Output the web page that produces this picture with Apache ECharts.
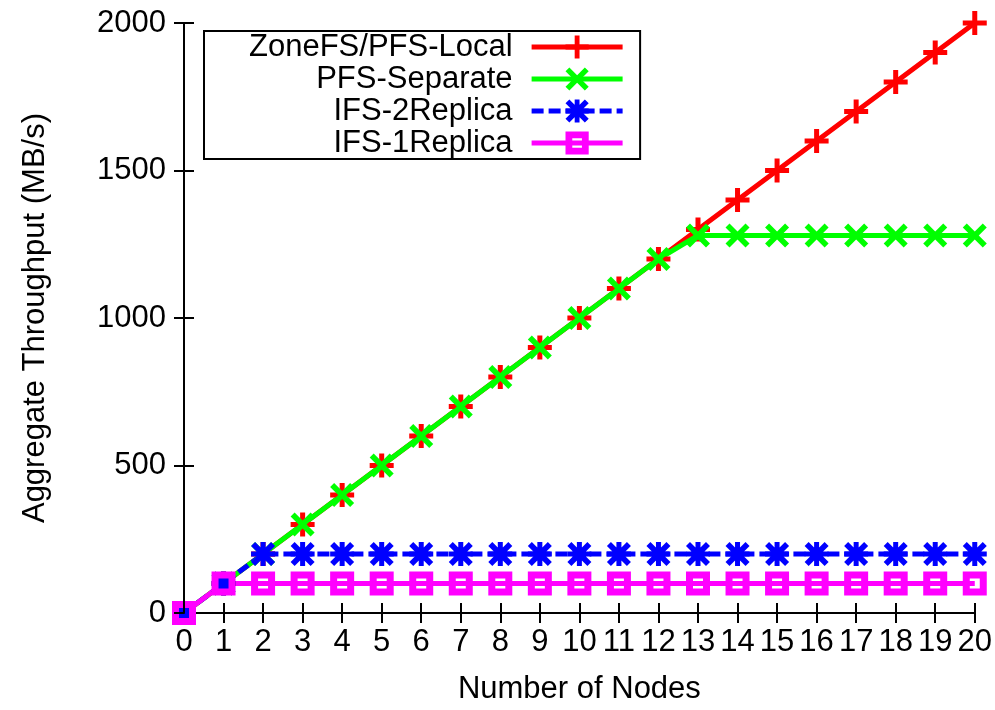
<!DOCTYPE html>
<html>
<head>
<meta charset="utf-8">
<script src="https://cdn.jsdelivr.net/npm/echarts@6/dist/echarts.min.js"></script>
<style>
html,body{margin:0;padding:0;background:#fff;}
#chart{width:995px;height:710px;}
</style>
</head>
<body>
<div id="chart"></div>
<script>
const nodes = [0,1,2,3,4,5,6,7,8,9,10,11,12,13,14,15,16,17,18,19,20];
const zonefsLocal = [0,100,200,300,400,500,600,700,800,900,1000,1100,1200,1300,1400,1500,1600,1700,1800,1900,2000];
const pfsSeparate = [0,100,200,300,400,500,600,700,800,900,1000,1100,1200,1280,1280,1280,1280,1280,1280,1280,1280];
const ifs2Replica = [0,100,200,200,200,200,200,200,200,200,200,200,200,200,200,200,200,200,200,200,200];
const ifs1Replica = [0,100,100,100,100,100,100,100,100,100,100,100,100,100,100,100,100,100,100,100,100];
const seriesNames = ['ZoneFS/PFS-Local','PFS-Separate','IFS-2Replica','IFS-1Replica'];
const yTicks = [0,500,1000,1500,2000];

const FONT = 'Liberation Sans';
const FS = 31;
const pairs = vals => nodes.map((n,i)=>[n, vals[i]]);

const PLUS = 'path://M9.5,0H14.5V9.5H24V14.5H14.5V24H9.5V14.5H0V9.5H9.5Z';
const XMARK = 'path://M0,4L4,0L12,8L20,0L24,4L16,12L24,20L20,24L12,16L4,24L0,20L8,12Z';
const STAR = 'path://M0,4L4,0L12,8L20,0L24,4L16,12L24,20L20,24L12,16L4,24L0,20L8,12Z M9.5,0H14.5V9.5H24V14.5H14.5V24H9.5V14.5H0V9.5H9.5Z';
const SQUARE = 'path://M0,0H24V24H0Z M7,7V17H17V7Z';

function mk(name, vals, color, symbol, lineType){
  return {
    name, type:'line', data: pairs(vals),
    xAxisIndex:0, yAxisIndex:0,
    symbol, symbolSize:24, symbolKeepAspect:true,
    showAllSymbol:true,
    lineStyle:{color, width:5, type: lineType || 'solid'},
    itemStyle:{color, borderWidth:0},
    emphasis:{disabled:true},
    clip:false
  };
}

const chart = echarts.init(document.getElementById('chart'), null, {renderer:'canvas'});
const axisLine = {show:true, lineStyle:{color:'#000', width:2}};
const tick = {show:true, inside:true, length:10, lineStyle:{color:'#000', width:2}};
chart.setOption({
  animation:false,
  backgroundColor:'#fff',
  textStyle:{fontFamily:FONT},
  grid:{left:184, right:19, top:23, bottom:93},
  legend:{
    data: seriesNames,
    orient:'vertical', align:'right',
    left:204, top:31,
    padding:[0,15,0,45],
    itemGap:0, itemWidth:91, itemHeight:29,
    borderColor:'#000', borderWidth:2, backgroundColor:'#fff',
    selectedMode:false,
    lineStyle:{width:5},
    textStyle:{fontFamily:FONT, fontSize:FS, color:'#000', lineHeight:32, padding:[0,14,0,0]}
  },
  xAxis:[{
    type:'value', min:0, max:20, interval:1, position:'bottom',
    name:'Number of Nodes', nameLocation:'middle', nameGap:61,
    nameTextStyle:{fontFamily:FONT, fontSize:FS, color:'#000'},
    axisLine, axisTick:tick, splitLine:{show:false},
    axisLabel:{fontFamily:FONT, fontSize:FS, color:'#000', margin:14, formatter: v => String(v)}
  },{
    type:'value', min:0, max:20, interval:1, position:'top',
    axisLine, axisTick:tick, splitLine:{show:false}, axisLabel:{show:false}
  }],
  yAxis:[{
    type:'value', min:yTicks[0], max:yTicks[yTicks.length-1], interval:500, position:'left',
    name:'Aggregate Throughput (MB/s)', nameLocation:'middle', nameGap:133,
    nameTextStyle:{fontFamily:FONT, fontSize:FS, color:'#000'},
    axisLine, axisTick:tick, splitLine:{show:false},
    axisLabel:{fontFamily:FONT, fontSize:FS, color:'#000', margin:18, formatter: v => String(v)}
  },{
    type:'value', min:yTicks[0], max:yTicks[yTicks.length-1], interval:500, position:'right',
    z:10,
    axisLine, axisTick:tick, splitLine:{show:false}, axisLabel:{show:false}
  }],
  series:[
    mk(seriesNames[0], zonefsLocal, '#ff0000', PLUS),
    mk(seriesNames[1], pfsSeparate, '#00ff00', XMARK),
    mk(seriesNames[2], ifs2Replica, '#0000ff', STAR, [12,5]),
    mk(seriesNames[3], ifs1Replica, '#ff00ff', SQUARE)
  ]
});
</script>
</body>
</html>
